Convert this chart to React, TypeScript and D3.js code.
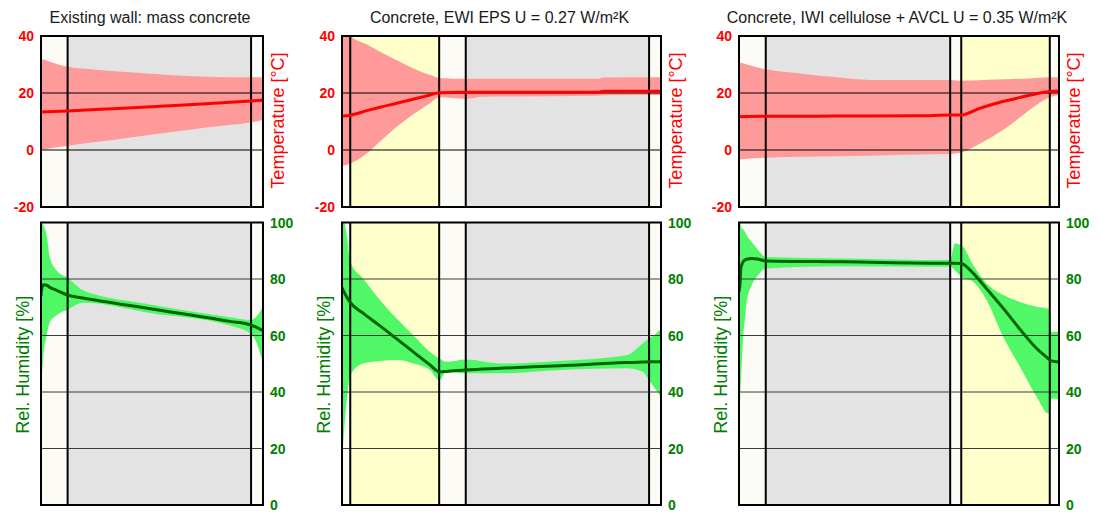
import React from "react";
import * as d3 from "d3";

// ---------- DATA ----------
const titles = [
  "Existing wall: mass concrete",
  "Concrete, EWI EPS U = 0.27 W/m²K",
  "Concrete, IWI cellulose + AVCL U = 0.35 W/m²K",
];

const tempTicks = [-20, 0, 20, 40];
const rhTicks = [0, 20, 40, 60, 80, 100];

// Panel 1: existing wall
const p1LayerThickness = [29, 200, 13];
const p1LayerMaterial = ["render", "concrete", "render"];
const p1TempX = [0, 29, 60, 100, 140, 180, 229, 242];
const p1TempMean = [13.3, 13.7, 14.2, 14.8, 15.5, 16.2, 17.2, 17.5];
const p1TempMin = [0, 1.5, 2.8, 4.5, 6.2, 7.9, 9.7, 10.5];
const p1TempMax = [32, 29.2, 28.2, 27.2, 26.3, 25.7, 25.5, 25.5];
const p1RhX = [0, 0.5, 2.5, 6.2, 9.8, 17.1, 29.1, 45.8, 119, 206, 229, 235.5, 242];
const p1RhMean = [74, 76, 78, 77.8, 77, 76, 74.3, 73.3, 69.5, 65, 63.7, 62.8, 61.7];
const p1RhMax = [100, 100, 99, 95.5, 87.4, 83, 80.4, 76, 71, 66.5, 65.5, 67, 70.2];
const p1RhMin = [27, 40, 52, 60, 64.8, 67.2, 69.2, 71.6, 68, 63.5, 60.5, 57, 50];

// Panel 2: EWI EPS
const p2LayerThickness = [9, 97, 29, 200, 13];
const p2LayerMaterial = ["render", "insulation", "render", "concrete", "render"];
const p2TempX = [0, 9, 27, 41.5, 59.7, 77.5, 96, 106, 135, 154, 280, 285, 348];
const p2TempMean = [11.9, 12.2, 13.8, 15.0, 16.4, 17.8, 19.3, 20.1, 20.3, 20.3, 20.3, 20.6, 20.6];
const p2TempMin = [-5.6, -4.7, -1.2, 3, 8.2, 12.5, 16.4, 18.5, 18, 18.7, 19, 19.2, 19.3];
const p2TempMax = [43, 40, 37, 34.5, 31.5, 28.7, 26.3, 25.3, 25, 25, 25, 25.4, 25.5];
const p2RhX = [0, 2, 5.5, 9, 23, 41.5, 59.7, 77.8, 96, 106, 114, 135, 173, 238, 310, 328, 335, 342, 348];
const p2RhMean = [77, 75.5, 73.5, 71.7, 67.9, 63.4, 58.8, 54.2, 49.6, 47.2, 47.3, 47.8, 48.4, 49.3, 50.4, 50.6, 50.7, 50.7, 50.7];
const p2RhMax = [100, 100, 95, 86, 80.2, 72.5, 66, 60.1, 54.2, 51.9, 50.7, 51.5, 50.1, 51, 53, 57.2, 59, 60.5, 62.5];
const p2RhMin = [15, 25, 38, 46, 50.1, 51, 51.3, 50.1, 47.8, 44.2, 47.2, 46.6, 46.6, 47.8, 48.4, 47.2, 44.2, 41, 38.3];

// Panel 3: IWI cellulose + AVCL
const p3LayerThickness = [29, 200, 12, 96, 10];
const p3LayerMaterial = ["render", "concrete", "render", "insulation", "render"];
const p3TempX = [0, 29, 70, 106, 142, 196, 229, 241, 261, 279, 297, 315, 337, 347];
const p3TempMean = [11.7, 11.8, 11.8, 11.9, 11.9, 12, 12.3, 12.3, 14.6, 16.4, 17.8, 19.2, 20.5, 20.7];
const p3TempMin = [-3.3, -2.7, -2.4, -2.2, -2, -1.6, -1.4, -0.9, 2.2, 5.5, 9.5, 14, 18.5, 19.3];
const p3TempMax = [30.8, 28.3, 26.7, 25.5, 24.6, 24.6, 24.6, 24.3, 24.5, 24.7, 24.9, 25.1, 25.5, 25.5];
const p3RhX = [0, 1, 2, 3, 4.7, 6.5, 8.3, 13.8, 20.9, 29, 113, 229, 234, 241, 254, 268.6, 286.6, 304.7, 322.8, 335.3, 337, 338.5, 347];
const p3RhMean = [75.5, 77.8, 83.7, 85, 86.2, 86.7, 87, 87.3, 87, 86.4, 86.1, 85.6, 85.6, 85.5, 82, 76.5, 69.6, 62.2, 55.4, 51.8, 51.3, 51, 50.6];
const p3RhMax = [100, 100, 99, 98, 97.5, 96.7, 95.5, 93.1, 90.2, 87.8, 87.3, 86.7, 92.6, 92, 84.9, 78.4, 74.3, 71.9, 70.2, 69.5, 69.3, 61.3, 61.3];
const p3RhMin = [27.1, 36, 43.6, 50, 60.1, 66, 71.9, 77.8, 81.4, 83.7, 84.5, 84.3, 83.1, 80.8, 79, 72.5, 59.5, 48.9, 38.3, 32.4, 32.4, 37.7, 37.5];

// ---------- STYLE / LAYOUT ----------
const materialColor: Record<string, string> = {
  render: "#fcfbf5",
  concrete: "#e3e3e3",
  insulation: "#ffffcc",
};
const FONT = "'Liberation Sans', Arial, sans-serif";
const panelXRange = [
  [41, 263],
  [342, 661],
  [739, 1059],
];
const T_TOP = 36;
const T_BOTTOM = 207;
const R_TOP = 222.5;
const R_BOTTOM = 505;

type Panel = {
  title: string;
  thick: number[];
  mat: string[];
  tx: number[];
  tMean: number[];
  tMin: number[];
  tMax: number[];
  rx: number[];
  rMean: number[];
  rMin: number[];
  rMax: number[];
};

const panels: Panel[] = [
  { title: titles[0], thick: p1LayerThickness, mat: p1LayerMaterial, tx: p1TempX, tMean: p1TempMean, tMin: p1TempMin, tMax: p1TempMax, rx: p1RhX, rMean: p1RhMean, rMin: p1RhMin, rMax: p1RhMax },
  { title: titles[1], thick: p2LayerThickness, mat: p2LayerMaterial, tx: p2TempX, tMean: p2TempMean, tMin: p2TempMin, tMax: p2TempMax, rx: p2RhX, rMean: p2RhMean, rMin: p2RhMin, rMax: p2RhMax },
  { title: titles[2], thick: p3LayerThickness, mat: p3LayerMaterial, tx: p3TempX, tMean: p3TempMean, tMin: p3TempMin, tMax: p3TempMax, rx: p3RhX, rMean: p3RhMean, rMin: p3RhMin, rMax: p3RhMax },
];

function PlotArea(props: {
  id: string;
  x: d3.ScaleLinear<number, number>;
  y: d3.ScaleLinear<number, number>;
  bounds: number[];
  mat: string[];
  xs: number[];
  mean: number[];
  lo: number[];
  hi: number[];
  ticks: number[];
  bandColor: string;
  lineColor: string;
  gridColor: string;
}) {
  const { id, x, y, bounds, mat, xs, mean, lo, hi, ticks, bandColor, lineColor, gridColor } = props;
  const [x0, x1] = x.range();
  const [yB, yT] = y.range();
  const idx = xs.map((_, i) => i);
  const area = d3
    .area<number>()
    .x((i) => x(xs[i]))
    .y0((i) => y(lo[i]))
    .y1((i) => y(hi[i]))
    .curve(d3.curveMonotoneX);
  const line = d3
    .line<number>()
    .x((i) => x(xs[i]))
    .y((i) => y(mean[i]))
    .curve(d3.curveMonotoneX);
  const [d0, d1] = y.domain();
  return (
    <g>
      <defs>
        <clipPath id={id}>
          <rect x={x0} y={yT} width={x1 - x0} height={yB - yT} />
        </clipPath>
      </defs>
      <g clipPath={`url(#${id})`}>
        {mat.map((m, i) => (
          <rect key={i} x={x(bounds[i])} y={yT} width={x(bounds[i + 1]) - x(bounds[i])} height={yB - yT} fill={materialColor[m]} />
        ))}
        <path d={area(idx) || ""} fill={bandColor} />
        {ticks
          .filter((t) => t !== d0 && t !== d1)
          .map((t) => (
            <line key={t} x1={x0} x2={x1} y1={y(t)} y2={y(t)} stroke={gridColor} strokeWidth={1} />
          ))}
        {bounds.slice(1, -1).map((b, i) => (
          <line key={i} x1={x(b)} x2={x(b)} y1={yT} y2={yB} stroke="#000" strokeWidth={2} />
        ))}
        <path d={line(idx) || ""} fill="none" stroke={lineColor} strokeWidth={3} strokeLinejoin="round" />
      </g>
      <rect x={x0} y={yT} width={x1 - x0} height={yB - yT} fill="none" stroke="#000" strokeWidth={2} />
    </g>
  );
}

export default function App() {
  return (
    <svg width={1100} height={513} style={{ position: "absolute", left: 0, top: 0, background: "#fff" }} fontFamily={FONT}>
      <rect width={1100} height={513} fill="#fff" />
      {panels.map((p, pi) => {
        const bounds = [0, ...d3.cumsum(p.thick)];
        const total = bounds[bounds.length - 1];
        const [l, r] = panelXRange[pi];
        const x = d3.scaleLinear().domain([0, total]).range([l, r]);
        const yT = d3.scaleLinear().domain([-20, 40]).range([T_BOTTOM, T_TOP]);
        const yR = d3.scaleLinear().domain([0, 100]).range([R_BOTTOM, R_TOP]);
        const cx = (l + r) / 2;
        return (
          <g key={pi}>
            <text x={cx - 2} y={22.5} textAnchor="middle" fontSize={16} fill="#1a1a1a">
              {p.title}
            </text>
            <PlotArea id={`t${pi}`} x={x} y={yT} bounds={bounds} mat={p.mat} xs={p.tx} mean={p.tMean} lo={p.tMin} hi={p.tMax} ticks={tempTicks} bandColor="#ff9a9a" lineColor="#ff0000" gridColor="#000" />
            <PlotArea id={`r${pi}`} x={x} y={yR} bounds={bounds} mat={p.mat} xs={p.rx} mean={p.rMean} lo={p.rMin} hi={p.rMax} ticks={rhTicks} bandColor="#50f868" lineColor="#006400" gridColor="#3a3a3a" />
            {tempTicks.map((t) => (
              <text key={t} x={l - 7} y={yT(t)} dy="0.36em" textAnchor="end" fontSize={14} fontWeight="bold" fill="#ff0000">
                {t}
              </text>
            ))}
            {rhTicks.map((t) => (
              <text key={t} x={r + 7} y={yR(t)} dy="0.36em" textAnchor="start" fontSize={14} fontWeight="bold" fill="#008000">
                {t}
              </text>
            ))}
            <text transform={`translate(${r + 15},${(T_TOP + T_BOTTOM) / 2 - 1}) rotate(-90)`} dy="0.35em" textAnchor="middle" fontSize={18} fill="#ff0000">
              Temperature [°C]
            </text>
            <text transform={`translate(${l - 18},${(R_TOP + R_BOTTOM) / 2 + 1}) rotate(-90)`} dy="0.35em" textAnchor="middle" fontSize={18} fill="#008000">
              Rel. Humidity [%]
            </text>
          </g>
        );
      })}
    </svg>
  );
}
